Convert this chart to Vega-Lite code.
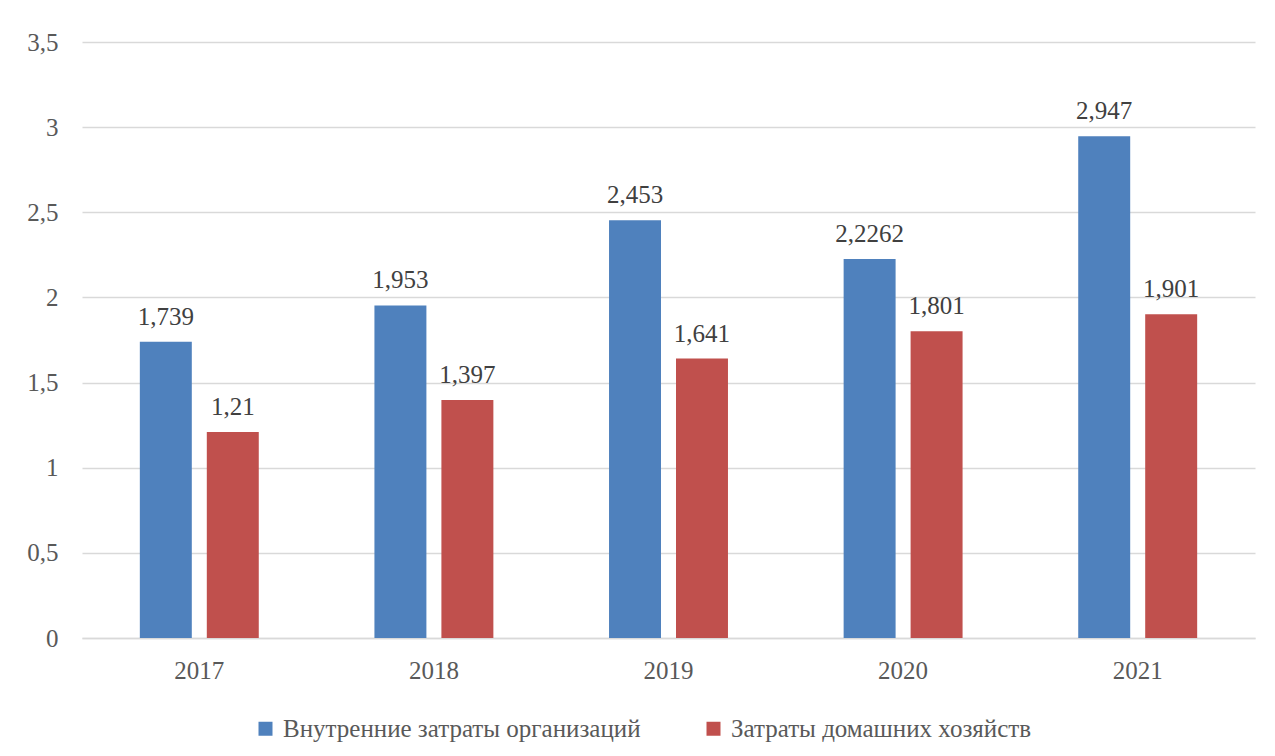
{
  "$schema": "https://vega.github.io/schema/vega-lite/v6.json",
  "autosize": {"type": "none"},
  "width": 1173,
  "height": 596,
  "padding": {"left": 82, "top": 42, "right": 20, "bottom": 118},
  "background": "white",
  "config": {
    "locale": {"number": {"decimal": ",", "thousands": " ", "grouping": [3], "currency": ["", ""]}},
    "view": {"stroke": null},
    "font": "Liberation Serif"
  },
  "data": {
    "values": [
      {"year": "2017", "series": "Внутренние затраты организаций", "value": 1.739},
      {"year": "2017", "series": "Затраты домашних хозяйств", "value": 1.21},
      {"year": "2018", "series": "Внутренние затраты организаций", "value": 1.953},
      {"year": "2018", "series": "Затраты домашних хозяйств", "value": 1.397},
      {"year": "2019", "series": "Внутренние затраты организаций", "value": 2.453},
      {"year": "2019", "series": "Затраты домашних хозяйств", "value": 1.641},
      {"year": "2020", "series": "Внутренние затраты организаций", "value": 2.2262},
      {"year": "2020", "series": "Затраты домашних хозяйств", "value": 1.801},
      {"year": "2021", "series": "Внутренние затраты организаций", "value": 2.947},
      {"year": "2021", "series": "Затраты домашних хозяйств", "value": 1.901}
    ]
  },
  "encoding": {
    "x": {
      "field": "year", "type": "nominal",
      "scale": {"paddingInner": 0.493, "paddingOuter": 0.2465},
      "axis": {
        "title": null, "labelAngle": 0, "labelFont": "Liberation Serif", "labelFontSize": 25,
        "labelColor": "#595959", "ticks": false, "domainColor": "#d9d9d9", "domainWidth": 1.5,
        "labelPadding": 20
      }
    },
    "xOffset": {
      "field": "series", "type": "nominal",
      "scale": {"paddingInner": 0.224, "paddingOuter": 0}
    },
    "y": {
      "field": "value", "type": "quantitative",
      "scale": {"domain": [0, 3.5], "nice": false},
      "axis": {
        "title": null, "values": [0, 0.5, 1, 1.5, 2, 2.5, 3, 3.5], "format": "~g",
        "labelFont": "Liberation Serif", "labelFontSize": 25, "labelColor": "#595959",
        "ticks": false, "domain": false, "labelPadding": 24,
        "gridColor": "#d9d9d9", "gridWidth": 1.5
      }
    }
  },
  "layer": [
    {
      "mark": {"type": "bar"},
      "encoding": {
        "color": {
          "field": "series", "type": "nominal",
          "scale": {"domain": ["Внутренние затраты организаций", "Затраты домашних хозяйств"], "range": ["#4F81BD", "#C0504D"]},
          "legend": {
            "title": null, "orient": "none", "direction": "horizontal", "legendX": 171, "legendY": 674,
            "labelFont": "Liberation Serif", "labelFontSize": 25, "labelColor": "#595959", "labelLimit": 0,
            "symbolType": "square", "symbolSize": 196, "symbolStrokeWidth": 0,
            "columnPadding": 60, "labelOffset": 5, "padding": 0
          }
        }
      }
    },
    {
      "mark": {"type": "text", "baseline": "alphabetic", "dy": -17, "fontSize": 25, "font": "Liberation Serif", "color": "#404040"},
      "encoding": {
        "text": {"field": "value", "type": "quantitative", "format": ""}
      }
    }
  ]
}
